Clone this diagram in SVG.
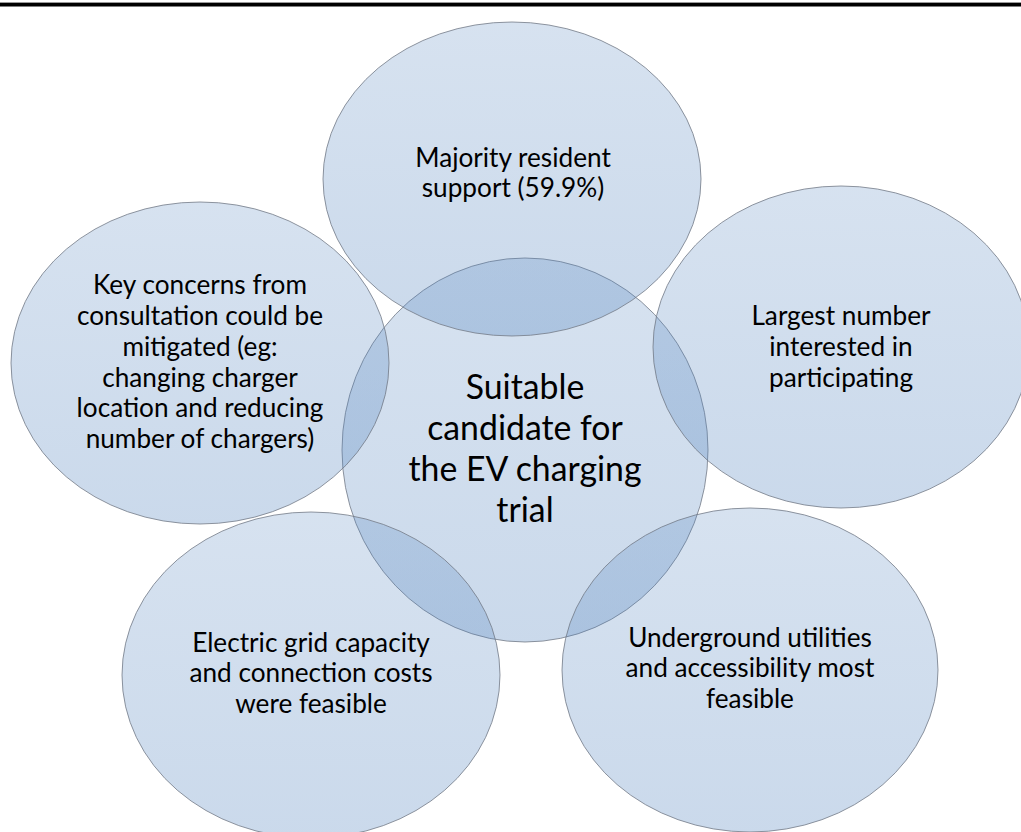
<svg xmlns="http://www.w3.org/2000/svg" width="1021" height="832" viewBox="0 0 1021 832">
  <defs>
    <linearGradient id="fillGrad" x1="0" y1="0" x2="0" y2="1">
      <stop offset="0" stop-color="#4F81BD" stop-opacity="0.23"/>
      <stop offset="1" stop-color="#4F81BD" stop-opacity="0.30"/>
    </linearGradient>
  </defs>
  <style>
    .bubble { fill: url(#fillGrad); stroke: #737b87; stroke-opacity: 0.8; stroke-width: 1; }
    .lbl { font-family: Lato, "Liberation Sans", sans-serif; font-size: 26.2px; fill: #000; text-anchor: middle; }
    .center { font-size: 33.8px; }
  </style>
  <rect x="0" y="0" width="1021" height="832" fill="#ffffff"/>
  <rect x="0" y="2" width="1021" height="1" fill="#9a9a9a"/>
  <rect x="0" y="3" width="1021" height="3.5" fill="#000000"/>

  <g id="node-center">
    <ellipse class="bubble" cx="525" cy="450" rx="183" ry="192"/>
    <text class="lbl center" x="525" y="399">Suitable</text>
    <text class="lbl center" x="525" y="440">candidate for</text>
    <text class="lbl center" x="525" y="481">the EV charging</text>
    <text class="lbl center" x="525" y="522">trial</text>
  </g>
  <g id="node-top">
    <ellipse class="bubble" cx="512" cy="179" rx="189" ry="157"/>
    <text class="lbl" x="513" y="167">Majority resident</text>
    <text class="lbl" x="513" y="197">support (59.9%)</text>
  </g>
  <g id="node-left">
    <ellipse class="bubble" cx="200" cy="363" rx="189" ry="161"/>
    <text class="lbl" x="200" y="294">Key concerns from</text>
    <text class="lbl" x="200" y="325">consultation could be</text>
    <text class="lbl" x="200" y="356">mitigated (eg:</text>
    <text class="lbl" x="200" y="387">changing charger</text>
    <text class="lbl" x="200" y="417">location and reducing</text>
    <text class="lbl" x="200" y="448">number of chargers)</text>
  </g>
  <g id="node-right">
    <ellipse class="bubble" cx="841" cy="347" rx="188" ry="161"/>
    <text class="lbl" x="841" y="325">Largest number</text>
    <text class="lbl" x="841" y="356">interested in</text>
    <text class="lbl" x="841" y="387">participating</text>
  </g>
  <g id="node-bottom-left">
    <ellipse class="bubble" cx="311" cy="675" rx="189" ry="163"/>
    <text class="lbl" x="311" y="652">Electric grid capacity</text>
    <text class="lbl" x="311" y="682">and connection costs</text>
    <text class="lbl" x="311" y="713">were feasible</text>
  </g>
  <g id="node-bottom-right">
    <ellipse class="bubble" cx="750" cy="670" rx="188" ry="162"/>
    <text class="lbl" x="750" y="647">Underground utilities</text>
    <text class="lbl" x="750" y="677">and accessibility most</text>
    <text class="lbl" x="750" y="708">feasible</text>
  </g>
  <g id="connectors"/>
</svg>
